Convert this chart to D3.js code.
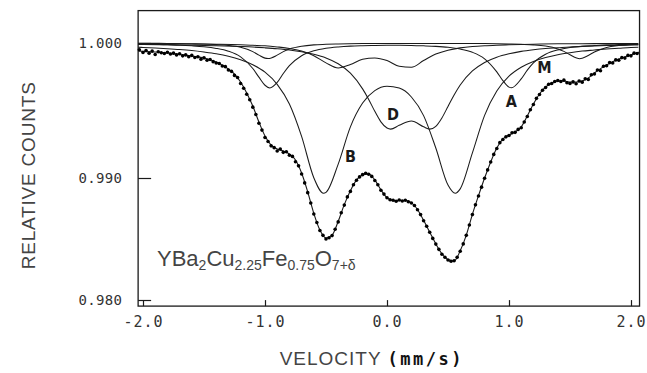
<!DOCTYPE html>
<html><head><meta charset="utf-8">
<script src="https://cdn.jsdelivr.net/npm/d3@7/dist/d3.min.js"></script>
<style>html,body{margin:0;padding:0;background:#fff;}svg{display:block}</style>
</head><body>
<svg id="chart" width="647" height="373"></svg>
<script>
// ---- data (velocity in mm/s, relative counts) ----
const velocityTicks = [-2, -1, 0, 1, 2];
const velocityTickLabels = ["-2.0", "-1.0", "0.0", "1.0", "2.0"];
const countTicks = [0.980, 0.990, 1.000];
const countTickLabels = ["0.980", "0.990", "1.000"];

const measured = [
[-2.03,0.99950],[-2.00,0.99930],[-1.975,0.99945],[-1.95,0.99925],[-1.925,0.99940],[-1.90,0.99915],[-1.875,0.99935],[-1.85,0.99928],[-1.825,0.99922],[-1.80,0.99932],[-1.775,0.99918],[-1.75,0.99925],[-1.725,0.99912],[-1.70,0.99920],[-1.675,0.99905],[-1.65,0.99912],[-1.625,0.99898],[-1.60,0.99908],[-1.575,0.99893],[-1.55,0.99898],[-1.525,0.99880],[-1.50,0.99890],[-1.475,0.99872],[-1.45,0.99878],[-1.425,0.99862],[-1.40,0.99852],[-1.375,0.99848],[-1.35,0.99830],[-1.325,0.99825],[-1.30,0.99800],[-1.275,0.99790],[-1.25,0.99760],[-1.225,0.99745],[-1.20,0.99700],[-1.175,0.99665],[-1.15,0.99620],[-1.125,0.99580],[-1.10,0.99525],[-1.075,0.99470],[-1.05,0.99405],[-1.025,0.99355],[-1.00,0.99300],[-0.975,0.99270],[-0.95,0.99238],[-0.925,0.99225],[-0.90,0.99200],[-0.875,0.99215],[-0.85,0.99190],[-0.825,0.99195],[-0.80,0.99168],[-0.775,0.99160],[-0.75,0.99120],[-0.725,0.99090],[-0.70,0.99030],[-0.675,0.98960],[-0.65,0.98880],[-0.625,0.98795],[-0.60,0.98705],[-0.575,0.98635],[-0.55,0.98570],[-0.525,0.98530],[-0.50,0.98500],[-0.475,0.98510],[-0.45,0.98528],[-0.425,0.98580],[-0.40,0.98640],[-0.375,0.98715],[-0.35,0.98778],[-0.325,0.98845],[-0.30,0.98890],[-0.275,0.98945],[-0.25,0.98982],[-0.225,0.99008],[-0.20,0.99025],[-0.175,0.99035],[-0.15,0.99028],[-0.125,0.99012],[-0.10,0.98980],[-0.075,0.98945],[-0.05,0.98900],[-0.025,0.98868],[0.00,0.98838],[0.025,0.98822],[0.05,0.98818],[0.075,0.98810],[0.10,0.98820],[0.125,0.98812],[0.15,0.98818],[0.175,0.98805],[0.20,0.98795],[0.225,0.98775],[0.25,0.98740],[0.275,0.98700],[0.30,0.98650],[0.325,0.98605],[0.35,0.98555],[0.375,0.98505],[0.40,0.98458],[0.425,0.98415],[0.45,0.98375],[0.475,0.98350],[0.50,0.98328],[0.525,0.98318],[0.55,0.98322],[0.575,0.98350],[0.60,0.98400],[0.625,0.98460],[0.65,0.98530],[0.675,0.98615],[0.70,0.98700],[0.725,0.98780],[0.75,0.98852],[0.775,0.98925],[0.80,0.98998],[0.825,0.99060],[0.85,0.99118],[0.875,0.99175],[0.90,0.99218],[0.925,0.99262],[0.95,0.99285],[0.975,0.99305],[1.00,0.99315],[1.025,0.99335],[1.05,0.99338],[1.075,0.99360],[1.10,0.99372],[1.125,0.99415],[1.15,0.99455],[1.175,0.99505],[1.20,0.99545],[1.225,0.99590],[1.25,0.99618],[1.275,0.99650],[1.30,0.99670],[1.325,0.99695],[1.35,0.99700],[1.375,0.99715],[1.40,0.99722],[1.425,0.99715],[1.45,0.99725],[1.475,0.99705],[1.50,0.99700],[1.525,0.99712],[1.55,0.99698],[1.575,0.99718],[1.60,0.99710],[1.625,0.99735],[1.65,0.99730],[1.675,0.99765],[1.70,0.99770],[1.725,0.99800],[1.75,0.99795],[1.775,0.99828],[1.80,0.99832],[1.825,0.99855],[1.85,0.99852],[1.875,0.99875],[1.90,0.99872],[1.925,0.99892],[1.95,0.99888],[1.975,0.99908],[2.00,0.99905],[2.025,0.99925],[2.05,0.99922]
];

const totalFit = [
[-2.04,0.99941],[-2.0,0.99938],[-1.95,0.99935],[-1.9,0.99933],[-1.85,0.9993],[-1.8,0.99926],[-1.75,0.99921],[-1.7,0.99915],[-1.65,0.9991],[-1.6,0.99904],[-1.55,0.99897],[-1.5,0.99889],[-1.45,0.99876],[-1.4,0.99859],[-1.35,0.99836],[-1.3,0.99807],[-1.25,0.9977],[-1.2,0.99711],[-1.15,0.9963],[-1.1,0.99533],[-1.05,0.99415],[-1.0,0.99311],[-0.95,0.99244],[-0.9,0.99215],[-0.85,0.992],[-0.8,0.99178],[-0.75,0.99133],[-0.7,0.99037],[-0.65,0.98887],[-0.6,0.9871],[-0.55,0.98573],[-0.5,0.98508],[-0.45,0.98532],[-0.4,0.98645],[-0.35,0.98782],[-0.3,0.98895],[-0.25,0.98984],[-0.2,0.99022],[-0.15,0.9903],[-0.1,0.98984],[-0.05,0.98903],[0.0,0.98839],[0.05,0.98815],[0.1,0.98815],[0.15,0.98815],[0.2,0.98798],[0.25,0.98742],[0.3,0.98653],[0.35,0.98556],[0.4,0.9846],[0.45,0.98379],[0.5,0.98331],[0.55,0.9832],[0.6,0.98403],[0.65,0.98532],[0.7,0.98702],[0.75,0.98855],[0.8,0.99],[0.85,0.99119],[0.9,0.99222],[0.95,0.99289],[1.0,0.99319],[1.05,0.99341],[1.1,0.99378],[1.15,0.99459],[1.2,0.99548],[1.25,0.99622],[1.3,0.99674],[1.35,0.99704],[1.4,0.99719],[1.45,0.99719],[1.5,0.99711],[1.55,0.99711],[1.6,0.99719],[1.65,0.99741],[1.7,0.99778],[1.75,0.9981],[1.8,0.99837],[1.85,0.99861],[1.9,0.99881],[1.95,0.99897],[2.0,0.99911],[2.05,0.99928],[2.07,0.99933]
];

const siteA = [
[-2.04,0.99992],[-2.0,0.99991],[-1.9,0.9999],[-1.8,0.99987],[-1.7,0.99984],[-1.6,0.99979],[-1.5,0.99972],[-1.4,0.9996],[-1.3,0.99939],[-1.2,0.99897],[-1.1,0.99811],[-1.05,0.99747],[-1.0,0.99687],[-0.96,0.99667],[-0.9,0.99708],[-0.85,0.99774],[-0.8,0.99832],[-0.7,0.99906],[-0.6,0.99942],[-0.5,0.99961],[-0.4,0.99971],[-0.3,0.99977],[-0.2,0.9998],[-0.1,0.99982],[0.0,0.99983],[0.1,0.99983],[0.2,0.99982],[0.3,0.99979],[0.4,0.99975],[0.5,0.99968],[0.6,0.99955],[0.7,0.99931],[0.8,0.99883],[0.9,0.99786],[0.95,0.99721],[1.0,0.99673],[1.02,0.99668],[1.1,0.99734],[1.15,0.99799],[1.2,0.99853],[1.3,0.99917],[1.4,0.99949],[1.5,0.99966],[1.6,0.99975],[1.7,0.99981],[1.8,0.99986],[1.9,0.99988],[2.0,0.9999],[2.06,0.99991]
];

const siteB = [
[-2.04,0.99969],[-2.0,0.99967],[-1.9,0.99963],[-1.8,0.99958],[-1.7,0.99952],[-1.6,0.99944],[-1.5,0.99933],[-1.4,0.9992],[-1.3,0.99902],[-1.2,0.99876],[-1.1,0.99839],[-1.0,0.99784],[-0.9,0.99694],[-0.8,0.99548],[-0.7,0.99308],[-0.6,0.99002],[-0.52,0.98875],[-0.5,0.98882],[-0.4,0.99103],[-0.3,0.99379],[-0.2,0.99555],[-0.1,0.99647],[0.0,0.99679],[0.1,0.99666],[0.2,0.996],[0.3,0.99462],[0.4,0.99222],[0.5,0.98942],[0.56,0.98875],[0.6,0.98911],[0.7,0.99186],[0.8,0.99464],[0.9,0.99644],[1.0,0.99754],[1.1,0.9982],[1.2,0.99863],[1.3,0.99892],[1.4,0.99913],[1.5,0.99928],[1.6,0.9994],[1.7,0.99948],[1.8,0.99956],[1.9,0.99961],[2.0,0.99966],[2.06,0.99968]
];

const siteC = [
[-2.04,0.99996],[-2.0,0.99996],[-1.8,0.99995],[-1.6,0.99993],[-1.4,0.99991],[-1.2,0.99987],[-1.1,0.99983],[-1.0,0.99979],[-0.9,0.99971],[-0.8,0.9996],[-0.7,0.9994],[-0.6,0.99906],[-0.5,0.99853],[-0.4,0.99815],[-0.3,0.99841],[-0.2,0.99879],[-0.1,0.99889],[0.0,0.9987],[0.1,0.99828],[0.2,0.9982],[0.3,0.9987],[0.4,0.99918],[0.5,0.99947],[0.6,0.99964],[0.7,0.99974],[0.8,0.9998],[0.9,0.99984],[1.0,0.99987],[1.2,0.99991],[1.4,0.99994],[1.6,0.99995],[1.8,0.99996],[2.0,0.99997],[2.06,0.99997]
];

const siteD = [
[-2.04,0.9999],[-2.0,0.9999],[-1.8,0.99988],[-1.6,0.99984],[-1.4,0.9998],[-1.2,0.99974],[-1.1,0.9997],[-1.0,0.99964],[-0.9,0.99957],[-0.8,0.99948],[-0.7,0.99935],[-0.6,0.99916],[-0.5,0.99889],[-0.4,0.99846],[-0.3,0.99776],[-0.2,0.9966],[-0.15,0.99582],[-0.1,0.99494],[-0.05,0.99416],[0.0,0.9937],[0.03,0.99362],[0.1,0.9939],[0.2,0.99422],[0.3,0.99379],[0.35,0.99362],[0.4,0.99383],[0.45,0.99445],[0.5,0.9953],[0.55,0.99615],[0.6,0.99689],[0.7,0.99793],[0.8,0.99856],[0.9,0.99895],[1.0,0.9992],[1.1,0.99938],[1.2,0.9995],[1.3,0.99959],[1.4,0.99965],[1.5,0.99971],[1.6,0.99975],[1.7,0.99978],[1.8,0.99981],[1.9,0.99983],[2.0,0.99985],[2.06,0.99986]
];

const siteM = [
[-2.04,0.99998],[-2.0,0.99998],[-1.8,0.99997],[-1.6,0.99994],[-1.5,0.99992],[-1.4,0.99988],[-1.3,0.99982],[-1.2,0.99968],[-1.1,0.99936],[-1.05,0.9991],[-1.0,0.99888],[-0.975,0.99885],[-0.9,0.9991],[-0.85,0.99936],[-0.8,0.99955],[-0.7,0.99976],[-0.6,0.99986],[-0.5,0.9999],[-0.4,0.99993],[-0.2,0.99996],[0.0,0.99997],[0.4,0.99997],[0.8,0.99996],[1.0,0.99993],[1.1,0.9999],[1.2,0.99986],[1.3,0.99977],[1.4,0.99956],[1.45,0.99938],[1.5,0.99913],[1.58,0.99884],[1.6,0.99887],[1.65,0.99908],[1.7,0.99933],[1.8,0.99967],[1.9,0.99981],[2.0,0.99988],[2.06,0.99991]
];

const siteLabels = [
  {text: "B", v: -0.30, c: 0.99156},
  {text: "D", v: 0.05, c: 0.99467},
  {text: "A", v: 1.02, c: 0.99570},
  {text: "M", v: 1.29, c: 0.99815}
];

// ---- layout ----
const svg = d3.select("#chart");
const x = d3.scaleLinear().domain([-2, 2]).range([143, 631]);
const y = d3.scaleLinear().domain([0.980, 0.990, 1.000]).range([300, 178, 43]);
const vMin = -2.04, vMax = 2.07, cMin = 0.9795, cMax = 1.0024;
const ink = "#1a1a1a";

// frame
svg.append("rect")
  .attr("x", x(vMin)).attr("y", y(cMax))
  .attr("width", x(vMax) - x(vMin)).attr("height", y(cMin) - y(cMax))
  .attr("fill", "none").attr("stroke", ink).attr("stroke-width", 1.3);

const line = d3.line().x(d => x(d[0])).y(d => y(d[1])).curve(d3.curveMonotoneX);

// sub-spectra
[siteA, siteB, siteC, siteD, siteM].forEach(s => {
  svg.append("path").datum(s).attr("d", line)
    .attr("fill", "none").attr("stroke", ink).attr("stroke-width", 1.05);
});

// total fit
svg.append("path").datum(totalFit).attr("d", line)
  .attr("fill", "none").attr("stroke", ink).attr("stroke-width", 1.1);

// measured points
svg.append("g").selectAll("circle").data(measured).join("circle")
  .attr("cx", d => x(d[0])).attr("cy", d => y(d[1])).attr("r", 1.8)
  .attr("fill", "#000");

// site labels
svg.append("g").selectAll("text").data(siteLabels).join("text")
  .attr("x", d => x(d.v)).attr("y", d => y(d.c))
  .attr("text-anchor", "middle").attr("dominant-baseline", "central")
  .attr("font-family", "'DejaVu Sans Condensed', 'DejaVu Sans', sans-serif")
  .attr("font-weight", "bold").attr("font-size", 16)
  .attr("fill", ink)
  .text(d => d.text);

// axes
const xAxis = d3.axisBottom(x).tickValues(velocityTicks)
  .tickFormat((d, i) => velocityTickLabels[i]).tickSizeInner(-6).tickSizeOuter(0).tickPadding(10);
const gx = svg.append("g").attr("transform", `translate(0,${y(cMin)})`).call(xAxis);
gx.select(".domain").remove();
gx.selectAll("line").attr("stroke", ink).attr("stroke-width", 1.2);
gx.selectAll("text").attr("font-family", "'DejaVu Sans Mono', monospace")
  .attr("font-size", 15).attr("fill", "#333").attr("letter-spacing", 1);

const yAxis = d3.axisLeft(y).tickValues(countTicks)
  .tickFormat((d, i) => countTickLabels[i]).tickSizeInner(-13).tickSizeOuter(0).tickPadding(16);
const gy = svg.append("g").attr("transform", `translate(${x(vMin)},0)`).call(yAxis);
gy.select(".domain").remove();
gy.selectAll("line").attr("stroke", ink).attr("stroke-width", 1.2);
gy.selectAll("text").attr("font-family", "'DejaVu Sans Mono', monospace")
  .attr("font-size", 14).attr("fill", "#333").attr("letter-spacing", 0.3);

// axis titles
svg.append("text")
  .attr("transform", `translate(28,${(y(cMax) + y(cMin)) / 2 + 17}) rotate(-90)`)
  .attr("text-anchor", "middle").attr("dominant-baseline", "central")
  .attr("font-family", "'Liberation Sans', Arial, sans-serif").attr("font-size", 19)
  .attr("letter-spacing", 0.8).attr("fill", "#444")
  .text("RELATIVE COUNTS");

const xt = svg.append("text")
  .attr("x", (x(vMin) + x(vMax)) / 2 - 17).attr("y", 365)
  .attr("text-anchor", "middle")
  .attr("font-family", "'Liberation Sans', Arial, sans-serif").attr("font-size", 19)
  .attr("fill", "#444").attr("letter-spacing", 1);
xt.append("tspan").text("VELOCITY ");
xt.append("tspan").attr("font-weight", "bold").attr("font-family", "'DejaVu Sans Mono', monospace")
  .attr("font-size", 17).attr("letter-spacing", 2.5).attr("fill", "#111").text("(mm/s)");

// compound label
const formula = [
  {t: "YBa", sub: false}, {t: "2", sub: true}, {t: "Cu", sub: false}, {t: "2.25", sub: true},
  {t: "Fe", sub: false}, {t: "0.75", sub: true}, {t: "O", sub: false}, {t: "7+δ", sub: true}
];
const ft = svg.append("text")
  .attr("x", x(-1.885)).attr("y", y(0.98282))
  .attr("font-family", "'Liberation Sans', Arial, sans-serif").attr("font-size", 22)
  .attr("fill", "#444");
let prevSub = false;
formula.forEach(p => {
  const ts = ft.append("tspan").text(p.t);
  if (p.sub && !prevSub) ts.attr("dy", 4);
  else if (!p.sub && prevSub) ts.attr("dy", -4);
  if (p.sub) ts.attr("font-size", 14);
  prevSub = p.sub;
});
</script>
</body></html>
